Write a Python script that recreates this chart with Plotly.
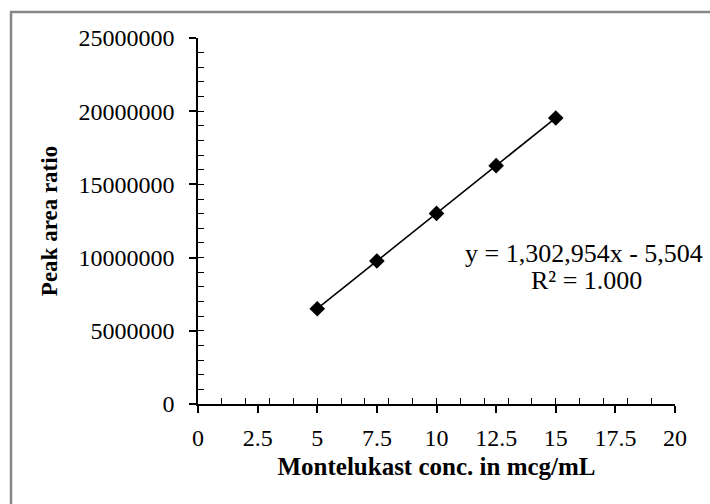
import numpy as np
import plotly.graph_objects as go

conc = [5, 7.5, 10, 12.5, 15]
peak_ratio = [6510000, 9770000, 13020000, 16280000, 19540000]
x_ticks = [0, 2.5, 5, 7.5, 10, 12.5, 15, 17.5, 20]
y_ticks = [0, 5000000, 10000000, 15000000, 20000000, 25000000]
equation_text = "y = 1,302,954x - 5,504"
r2_text = "R² = 1.000"

slope, intercept = np.polyfit(conc, peak_ratio, 1)
fit_x = [min(conc), max(conc)]
fit_y = [slope * v + intercept for v in fit_x]

FONT = "Liberation Serif"

fig = go.Figure()
fig.add_trace(go.Scatter(x=fit_x, y=fit_y, mode="lines",
                         line=dict(color="black", width=1.6),
                         xaxis="x2", yaxis="y2", showlegend=False, hoverinfo="skip"))
fig.add_trace(go.Scatter(x=conc, y=peak_ratio, mode="markers",
                         marker=dict(symbol="diamond", size=12, color="black"),
                         showlegend=False))

fig.update_layout(
    width=710, height=504,
    margin=dict(l=198, r=35, t=38, b=100),
    plot_bgcolor="white", paper_bgcolor="white",
    font=dict(family=FONT, color="black", size=24),
    xaxis=dict(range=[0, 20], tickvals=x_ticks, ticktext=[f"{v:g}" for v in x_ticks],
               ticks="outside", ticklen=7, tickwidth=1.5, tickcolor="black",
               showline=True, linecolor="black", linewidth=1.5,
               showgrid=False, zeroline=False, ticklabelstandoff=4,
               tickfont=dict(family=FONT, size=24),
               title=dict(text="<b>Montelukast conc. in mcg/mL</b>",
                          font=dict(family=FONT, size=25), standoff=8)),
    yaxis=dict(range=[0, 25000000], tickvals=y_ticks, ticktext=[str(v) for v in y_ticks],
               ticks="outside", ticklen=7, tickwidth=1.5, tickcolor="black",
               showline=True, linecolor="black", linewidth=1.5,
               showgrid=False, zeroline=False, ticklabelstandoff=10,
               tickfont=dict(family=FONT, size=24),
               title=dict(text="<b>Peak area ratio</b>",
                          font=dict(family=FONT, size=23), standoff=14)),
    xaxis2=dict(range=[0, 20], overlaying="x", anchor="y2", dtick=1, tick0=0,
                ticks="inside", ticklen=6, tickwidth=1.2, tickcolor="black",
                showticklabels=False, showgrid=False, zeroline=False, showline=False,
                side="bottom"),
    yaxis2=dict(range=[0, 25000000], overlaying="y", anchor="x2", dtick=1000000, tick0=0,
                ticks="inside", ticklen=6, tickwidth=1.2, tickcolor="black",
                showticklabels=False, showgrid=False, zeroline=False, showline=False,
                side="left"),
)

fig.add_annotation(x=11.1, y=10.31e6, xref="x", yref="y", text=equation_text,
                   showarrow=False, xanchor="left", yanchor="middle",
                   font=dict(family=FONT, size=26))
fig.add_annotation(x=16.27, y=8.45e6, xref="x", yref="y", text=r2_text,
                   showarrow=False, xanchor="center", yanchor="middle",
                   font=dict(family=FONT, size=26))

fig.add_shape(type="rect", xref="paper", yref="paper",
              x0=-0.392, y0=-0.30, x1=1.2, y1=1.071,
              line=dict(color="#888888", width=2.5), layer="below")

fig.write_html("out.html")
